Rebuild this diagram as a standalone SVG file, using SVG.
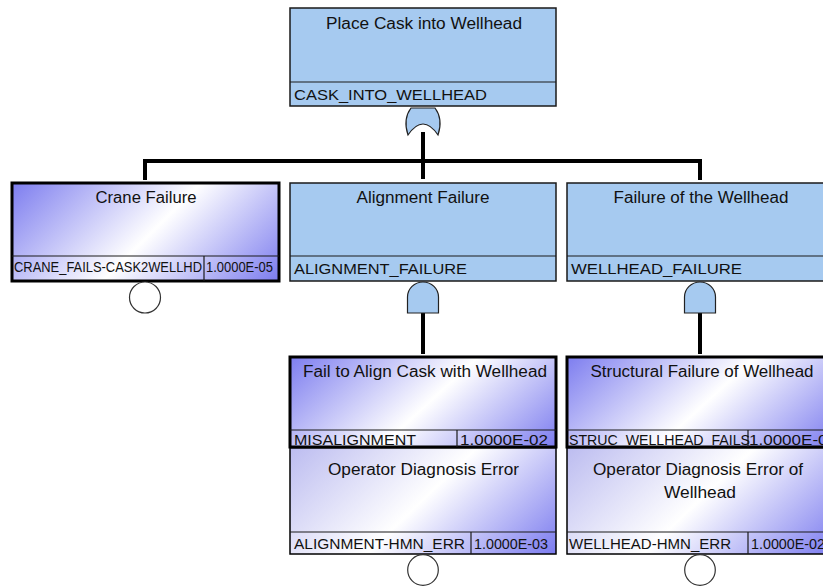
<svg xmlns="http://www.w3.org/2000/svg" width="823" height="586" viewBox="0 0 823 586">
<defs>
<linearGradient id="gBasic" x1="0" y1="0" x2="1.2" y2="0.44">
<stop offset="0" stop-color="#7d7def"/>
<stop offset="0.52" stop-color="#ffffff"/>
<stop offset="1" stop-color="#7d7def"/>
</linearGradient>
<linearGradient id="gLower" x1="0" y1="0" x2="1.2" y2="0.5">
<stop offset="0" stop-color="#bcbcf0"/>
<stop offset="0.5" stop-color="#ffffff"/>
<stop offset="1" stop-color="#7d7def"/>
</linearGradient>
<style>
.inter{fill:#a6caf0;stroke:#1a1a1a;stroke-width:1.5}
.basic{fill:url(#gBasic);stroke:#000;stroke-width:3}
.lower{fill:url(#gLower);stroke:#000;stroke-width:1.5}
.div{stroke:#1a1a1a;stroke-width:1.2}
.gate{fill:#a6caf0;stroke:#222;stroke-width:1.2}
.circ{fill:#fff;stroke:#333;stroke-width:1.2}
.conn{stroke:#000;stroke-width:4;fill:none}
text{font-family:"Liberation Sans",Arial,sans-serif;fill:#111}
.t{font-size:16px;text-anchor:middle}
.c{font-size:15px}
.s{font-size:14px}
</style>
</defs>
<rect width="823" height="586" fill="#fff"/>
<g id="connectors">
<line class="conn" x1="423" y1="132" x2="423" y2="179"/>
<line class="conn" x1="143" y1="161" x2="702" y2="161"/>
<line class="conn" x1="145" y1="161" x2="145" y2="180"/>
<line class="conn" x1="700" y1="161" x2="700" y2="180"/>
<line class="conn" x1="423" y1="312" x2="423" y2="354"/>
<line class="conn" x1="700" y1="312" x2="700" y2="354"/>
</g>
<g id="top">
<rect class="inter" x="290" y="8" width="266" height="98"/>
<line class="div" x1="290" y1="82" x2="556" y2="82"/>
<text class="t" x="424" y="29" textLength="196" lengthAdjust="spacingAndGlyphs">Place Cask into Wellhead</text>
<text class="c" x="294" y="100" font-size="16" textLength="193" lengthAdjust="spacingAndGlyphs">CASK_INTO_WELLHEAD</text>
<path class="gate" d="M408,135 C405,126 405,116 411,108 L435,108 C441,116 441,126 438,135 Q423,113 408,135 Z"/>
</g>
<g id="crane">
<rect class="basic" x="12" y="183" width="267" height="98"/>
<line class="div" x1="12" y1="256" x2="279" y2="256"/>
<line class="div" x1="204" y1="256" x2="204" y2="281"/>
<text class="t" x="146" y="203" textLength="101" lengthAdjust="spacingAndGlyphs">Crane Failure</text>
<text class="s" x="14" y="272" textLength="188" lengthAdjust="spacingAndGlyphs">CRANE_FAILS-CASK2WELLHD</text>
<text class="s" x="206" y="272" textLength="67" lengthAdjust="spacingAndGlyphs">1.0000E-05</text>
<circle class="circ" cx="145" cy="297.5" r="15.5"/>
</g>
<g id="alignment">
<rect class="inter" x="290" y="183" width="266" height="98"/>
<line class="div" x1="290" y1="256" x2="556" y2="256"/>
<text class="t" x="423" y="203" textLength="133" lengthAdjust="spacingAndGlyphs">Alignment Failure</text>
<text class="c" x="294" y="274" font-size="16" textLength="173" lengthAdjust="spacingAndGlyphs">ALIGNMENT_FAILURE</text>
<path class="gate" d="M407.5,313 L407.5,297 A15.5,15 0 0 1 438.5,297 L438.5,313 Z"/>
</g>
<g id="wellhead">
<rect class="inter" x="567" y="183" width="266" height="98"/>
<line class="div" x1="567" y1="256" x2="833" y2="256"/>
<text class="t" x="701" y="203" textLength="175" lengthAdjust="spacingAndGlyphs">Failure of the Wellhead</text>
<text class="c" x="571" y="274" font-size="16" textLength="171" lengthAdjust="spacingAndGlyphs">WELLHEAD_FAILURE</text>
<path class="gate" d="M684.5,313 L684.5,297 A15.5,15 0 0 1 715.5,297 L715.5,313 Z"/>
</g>
<g id="misalignment">
<rect class="basic" x="290" y="357" width="266" height="90"/>
<line class="div" x1="290" y1="430" x2="556" y2="430"/>
<line class="div" x1="457" y1="430" x2="457" y2="447"/>
<text class="t" x="425" y="377" textLength="244" lengthAdjust="spacingAndGlyphs">Fail to Align Cask with Wellhead</text>
<text class="c" x="294" y="445" textLength="122" lengthAdjust="spacingAndGlyphs">MISALIGNMENT</text>
<text class="c" x="460" y="445" textLength="88" lengthAdjust="spacingAndGlyphs">1.0000E-02</text>
</g>
<g id="alignment-hmn">
<rect class="lower" x="290" y="448" width="266" height="106"/>
<line class="div" x1="290" y1="532" x2="556" y2="532"/>
<line class="div" x1="471" y1="532" x2="471" y2="554"/>
<text class="t" x="423.5" y="475" textLength="191" lengthAdjust="spacingAndGlyphs">Operator Diagnosis Error</text>
<text class="c" x="294" y="549" textLength="171" lengthAdjust="spacingAndGlyphs">ALIGNMENT-HMN_ERR</text>
<text class="c" x="474" y="549" textLength="74" lengthAdjust="spacingAndGlyphs">1.0000E-03</text>
<circle class="circ" cx="423" cy="570" r="15.3"/>
</g>
<g id="struc">
<rect class="basic" x="567" y="357" width="266" height="90"/>
<line class="div" x1="567" y1="430" x2="833" y2="430"/>
<line class="div" x1="748" y1="430" x2="748" y2="447"/>
<text class="t" x="702" y="377" textLength="223" lengthAdjust="spacingAndGlyphs">Structural Failure of Wellhead</text>
<text class="c" x="569" y="445" textLength="181" lengthAdjust="spacingAndGlyphs">STRUC_WELLHEAD_FAILS</text>
<text class="c" x="749" y="445" textLength="88" lengthAdjust="spacingAndGlyphs">1.0000E-04</text>
</g>
<g id="wellhead-hmn">
<rect class="lower" x="567" y="448" width="266" height="106"/>
<line class="div" x1="567" y1="532" x2="833" y2="532"/>
<line class="div" x1="748" y1="532" x2="748" y2="554"/>
<text class="t" x="698" y="475" textLength="210" lengthAdjust="spacingAndGlyphs">Operator Diagnosis Error of</text>
<text class="t" x="700" y="498" textLength="72" lengthAdjust="spacingAndGlyphs">Wellhead</text>
<text class="c" x="569" y="549" textLength="162" lengthAdjust="spacingAndGlyphs">WELLHEAD-HMN_ERR</text>
<text class="c" x="751" y="549" textLength="74" lengthAdjust="spacingAndGlyphs">1.0000E-02</text>
<circle class="circ" cx="700" cy="570" r="15.3"/>
</g>
</svg>
